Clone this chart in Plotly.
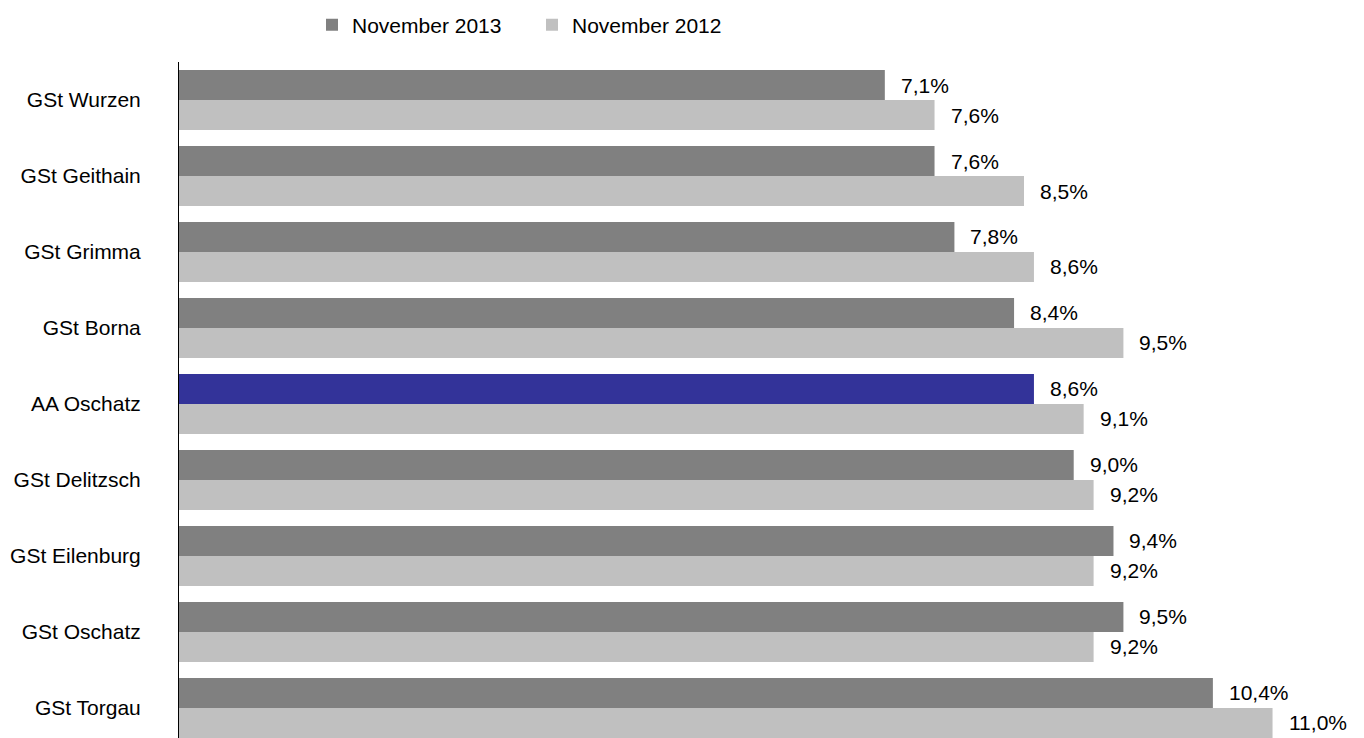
import plotly.graph_objects as go

categories = ["GSt Wurzen", "GSt Geithain", "GSt Grimma", "GSt Borna", "AA Oschatz",
              "GSt Delitzsch", "GSt Eilenburg", "GSt Oschatz", "GSt Torgau"]
nov_2013 = [7.1, 7.6, 7.8, 8.4, 8.6, 9.0, 9.4, 9.5, 10.4]
nov_2012 = [7.6, 8.5, 8.6, 9.5, 9.1, 9.2, 9.2, 9.2, 11.0]
highlight = "AA Oschatz"

DARK = "#808080"
LIGHT = "#C0C0C0"
HIGH = "#333399"
FONT = "Liberation Sans, Arial, sans-serif"
FS = 21

def fmt(v):
    return f"{v:.1f}".replace(".", ",") + "%"

colors_2013 = [HIGH if c == highlight else DARK for c in categories]

fig = go.Figure()
fig.add_trace(go.Bar(name="November 2013", y=categories, x=nov_2013, orientation="h",
                     marker=dict(color=colors_2013, line=dict(width=0))))
fig.add_trace(go.Bar(name="November 2012", y=categories, x=nov_2012, orientation="h",
                     marker=dict(color=LIGHT, line=dict(width=0))))

annotations = []
for c, v in zip(categories, nov_2013):
    annotations.append(dict(x=v, y=c, text=fmt(v), showarrow=False, xanchor="left",
                            xshift=14, yshift=15, font=dict(family=FONT, size=FS, color="#000")))
for c, v in zip(categories, nov_2012):
    annotations.append(dict(x=v, y=c, text=fmt(v), showarrow=False, xanchor="left",
                            xshift=14, yshift=-15, font=dict(family=FONT, size=FS, color="#000")))

W, H = 1356, 730
fig.update_layout(
    width=W, height=H,
    margin=dict(l=171, r=0, t=54, b=0),
    paper_bgcolor="white", plot_bgcolor="white",
    barmode="group", bargap=0.2105, bargroupgap=0,
    font=dict(family=FONT, size=FS, color="#000"),
    showlegend=True,
    legend=dict(orientation="h", xref="container", yref="container",
                x=304 / W, xanchor="left", y=1 - 17 / H, yanchor="middle",
                font=dict(family=FONT, size=FS, color="#000"),
                entrywidth=175, entrywidthmode="pixels", bgcolor="rgba(0,0,0,0)"),
    annotations=annotations,
)
fig.update_xaxes(visible=False, range=[0, 11.92], showgrid=False, zeroline=False)
fig.update_yaxes(type="category", categoryorder="array", categoryarray=categories,
                 range=[8.395, -0.5], showline=True, linecolor="#000", linewidth=1,
                 showgrid=False, ticks="", ticklabelstandoff=33,
                 tickfont=dict(family=FONT, size=FS, color="#000"))

fig.write_html("out.html")
